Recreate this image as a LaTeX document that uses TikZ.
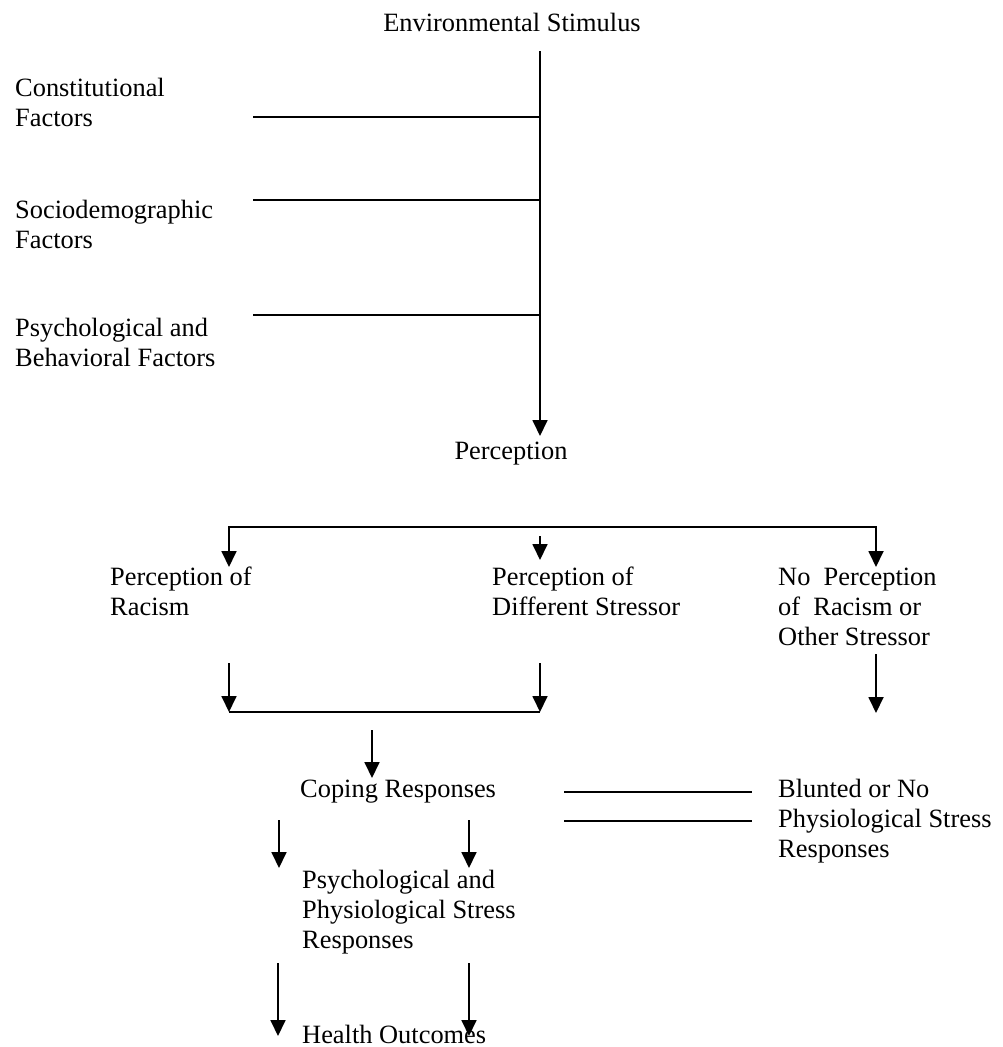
\documentclass[tikz,border=0pt]{standalone}
\usepackage{fontspec}
\setmainfont{Liberation Serif}
\usepackage{tikz}
\usetikzlibrary{arrows.meta,positioning}

\begin{document}
\begin{tikzpicture}[
  x=1pt, y=-1pt,
  lbl/.style={anchor=west, align=left, inner sep=0pt, font=\fontsize{26.4}{30}\selectfont},
  link/.style={line width=1.8pt},
  flow/.style={-{Triangle[length=16pt,width=15pt]}, line width=1.8pt},
  flowboth/.style={{Triangle[length=16pt,width=15pt]}-{Triangle[length=16pt,width=15pt]}, line width=1.8pt}
]
\path[use as bounding box, fill=white] (0,0) rectangle (1003,1047);

% labels
\node[lbl, anchor=center] (env) at (512,22) {Environmental Stimulus};
\node[lbl] (const) at (15,102) {Constitutional\\Factors};
\node[lbl] (socio) at (15,224) {Sociodemographic\\Factors};
\node[lbl] (behav) at (15,342) {Psychological and\\Behavioral Factors};
\node[lbl, anchor=center] (perc) at (511,454) {Perception};
\node[lbl] (racism) at (110,591) {Perception of\\Racism};
\node[lbl] (diff) at (492,591) {Perception of\\Different Stressor};
\node[lbl] (noperc) at (778,607) {No~ Perception\\of~ Racism or\\Other Stressor};
\node[lbl] (coping) at (300,792) {Coping Responses};
\node[lbl] (blunt) at (778,821) {Blunted or No\\Physiological Stress\\Responses};
\node[lbl] (stress) at (302,912) {Psychological and\\Physiological Stress\\Responses};
\node[lbl] (health) at (302,1034) {Health Outcomes};

% trunk and factor lines
\coordinate (t0) at (540,51);
\coordinate (t1) at (540,436);
\coordinate (f1) at (253,117);
\coordinate (f2) at (253,200);
\coordinate (f3) at (253,315);
\draw[flow] (t0) -- (t1);
\draw[link] (f1) -- (f1 -| t0);
\draw[link] (f2) -- (f2 -| t0);
\draw[link] (f3) -- (f3 -| t0);

% three-way split
\coordinate (b1) at (229,567);
\coordinate (b2) at (540,527);
\coordinate (b3) at (876,567);
\draw[flowboth] (b1) |- (b2) -| (b3);
\draw[flow] (540,536) -- (540,560);

% merge into coping
\coordinate (m1) at (229,712);
\coordinate (m2) at (540,712);
\draw[flow] (229,663) -- (m1);
\draw[flow] (540,663) -- (m2);
\draw[link] (m1) -- (m2);
\draw[flow] (876,654) -- (876,713);
\draw[flow] (372,730) -- (372,778);

% blunted responses
\draw[link] (564,792) -- (752,792);
\draw[link] (564,821) -- (752,821);

% down to health
\draw[flow] (279,820) -- (279,868);
\draw[flow] (469,820) -- (469,868);
\draw[flow] (278,963) -- (278,1036);
\draw[flow] (469,963) -- (469,1036);
\end{tikzpicture}
\end{document}
